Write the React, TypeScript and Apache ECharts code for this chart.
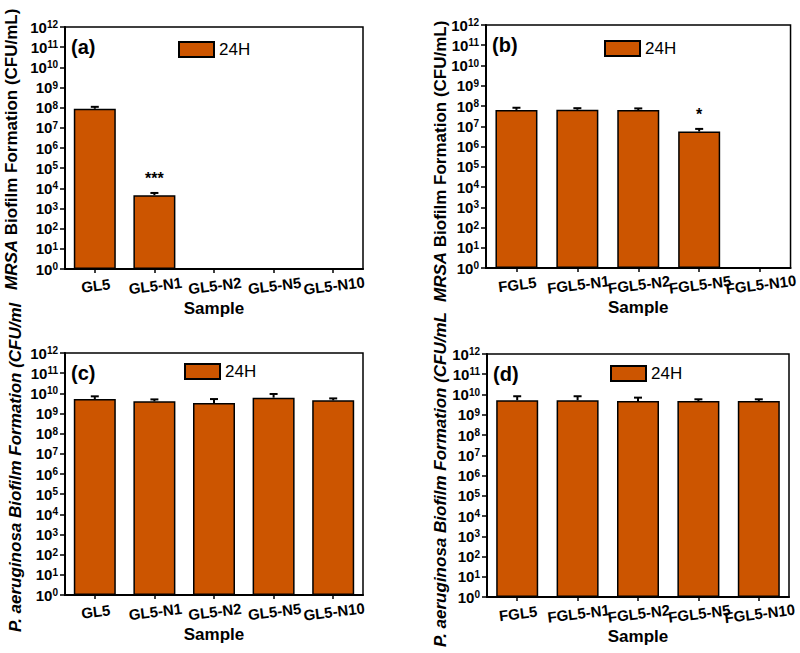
import React, { useEffect, useRef } from "react";
import * as echarts from "echarts";

const categoriesGL = ["GL5", "GL5-N1", "GL5-N2", "GL5-N5", "GL5-N10"];
const categoriesFGL = ["FGL5", "FGL5-N1", "FGL5-N2", "FGL5-N5", "FGL5-N10"];

// (a) MRSA, GL5 series
const valuesA: (number | null)[] = [8.8e7, 4.6e3, null, null, null];
const errorsA: (number | null)[] = [2.2e7, 1.3e3, null, null, null];
const starsA = ["", "***", "", "", ""];

// (b) MRSA, FGL5 series
const valuesB: (number | null)[] = [6.4e7, 6.5e7, 6.3e7, 5.5e6, null];
const errorsB: (number | null)[] = [1.8e7, 1.3e7, 1.3e7, 1.9e6, null];
const starsB = ["", "", "", "*", ""];

// (c) P. aeruginosa, GL5 series
const valuesC: (number | null)[] = [5.2e9, 4.0e9, 3.3e9, 6.1e9, 4.5e9];
const errorsC: (number | null)[] = [1.9e9, 1.0e9, 1.9e9, 3.2e9, 1.1e9];
const starsC = ["", "", "", "", ""];

// (d) P. aeruginosa, FGL5 series
const valuesD: (number | null)[] = [5.2e9, 5.2e9, 4.8e9, 4.8e9, 4.8e9];
const errorsD: (number | null)[] = [3.0e9, 3.0e9, 2.2e9, 1.0e9, 1.0e9];
const starsD = ["", "", "", "", ""];

const yMin = 1;
const yMax = 1e12;

const FONT = "'Liberation Sans', Arial, sans-serif";
const BAR_COLOR = "#CC5500";

export default function App() {
  const ref = useRef<HTMLDivElement>(null);

  useEffect(() => {
    if (!ref.current) return;
    const chart = echarts.init(ref.current, undefined, { renderer: "svg" });

    const grids = [
      { left: 65, top: 27, width: 298, height: 242 },
      { left: 486, top: 25, width: 305, height: 243 },
      { left: 65, top: 353, width: 298, height: 242 },
      { left: 487, top: 354, width: 302, height: 243 },
    ];
    const panels = [
      { cats: categoriesGL, vals: valuesA, errs: errorsA, stars: starsA, letter: "(a)" },
      { cats: categoriesFGL, vals: valuesB, errs: errorsB, stars: starsB, letter: "(b)" },
      { cats: categoriesGL, vals: valuesC, errs: errorsC, stars: starsC, letter: "(c)" },
      { cats: categoriesFGL, vals: valuesD, errs: errorsD, stars: starsD, letter: "(d)" },
    ];
    const legendPos = [
      { left: 178, top: 41 },
      { left: 604, top: 40 },
      { left: 184, top: 363 },
      { left: 610, top: 365 },
    ];

    const xAxis = panels.map((p, i) => ({
      type: "category",
      gridIndex: i,
      data: p.cats,
      axisLine: { show: true, lineStyle: { color: "#000", width: 2 } },
      axisTick: { show: true, alignWithLabel: true, length: 4, lineStyle: { color: "#000", width: 1.5 } },
      axisLabel: {
        color: "#000",
        fontFamily: FONT,
        fontWeight: "bold",
        fontSize: 15,
        rotate: 7,
        align: "center",
        verticalAlign: "top",
        margin: 9,
        interval: 0,
      },
      name: "Sample",
      nameLocation: "middle",
      nameGap: 31,
      nameTextStyle: { color: "#000", fontFamily: FONT, fontWeight: "bold", fontSize: 17 },
      splitLine: { show: false },
    }));

    const yAxis = panels.map((p, i) => ({
      type: "log",
      logBase: 10,
      gridIndex: i,
      min: yMin,
      max: yMax,
      interval: 1,
      splitNumber: 12,
      axisLine: { show: true, lineStyle: { color: "#000", width: 2 } },
      axisTick: { show: true, inside: false, length: 5, lineStyle: { color: "#000", width: 1.5 } },
      minorTick: { show: false },
      splitLine: { show: false },
      axisLabel: {
        margin: 7,
        formatter: (v: number) => `{b|10}{s|${Math.round(Math.log10(v))}}`,
        rich: {
          b: { fontFamily: FONT, fontWeight: "bold", fontSize: 15, color: "#000" },
          s: { fontFamily: FONT, fontWeight: "bold", fontSize: 10, color: "#000", verticalAlign: "top" },
        },
      },
    }));

    const series: any[] = [];
    panels.forEach((p, i) => {
      series.push({
        type: "bar",
        name: "24H",
        xAxisIndex: i,
        yAxisIndex: i,
        barWidth: 42,
        data: p.vals.map((v) => (v == null ? "-" : v)),
        itemStyle: { color: BAR_COLOR, borderColor: "#000", borderWidth: 1.5 },
      });
      const errData = p.vals
        .map((v, k) => (v == null ? null : [k, v, v + (p.errs[k] || 0)]))
        .filter((d) => d != null);
      const stars = p.stars;
      series.push({
        type: "custom",
        name: "err" + i,
        xAxisIndex: i,
        yAxisIndex: i,
        z: 5,
        silent: true,
        encode: { x: 0, y: [1, 2] },
        data: errData,
        renderItem: (params: any, api: any) => {
          const k = api.value(0);
          const base = api.coord([k, api.value(1)]);
          const top = api.coord([k, api.value(2)]);
          const children: any[] = [
            {
              type: "line",
              shape: { x1: base[0], y1: base[1], x2: top[0], y2: top[1] },
              style: { stroke: "#000", lineWidth: 2 },
            },
            {
              type: "line",
              shape: { x1: top[0] - 4, y1: top[1], x2: top[0] + 4, y2: top[1] },
              style: { stroke: "#000", lineWidth: 2 },
            },
          ];
          const s = stars[k];
          if (s) {
            children.push({
              type: "text",
              x: top[0],
              y: top[1] - 6,
              style: {
                text: s,
                fill: "#000",
                font: `bold 16px ${FONT}`,
                textAlign: "center",
                textVerticalAlign: "bottom",
              },
            });
          }
          return { type: "group", children };
        },
      });
    });

    const legend = legendPos.map((pos) => ({
      left: pos.left,
      top: pos.top,
      padding: 0,
      data: ["24H"],
      icon: "rect",
      itemWidth: 35,
      itemHeight: 15,
      itemGap: 5,
      selectedMode: false,
      textStyle: { fontFamily: FONT, fontSize: 17, color: "#000", padding: [0, 0, 0, 0] },
    }));

    const yTitles = [
      { x: 11, y: 290, rich: true },
      { x: 440, y: 302, rich: true },
      { x: 15, y: 632, rich: false, text: "P. aeruginosa Biofilm Formation (CFU/ml" },
      { x: 440, y: 647, rich: false, text: "P. aeruginosa Biofilm Formation (CFU/mL" },
    ];

    const graphic: any[] = [];
    grids.forEach((g, i) => {
      graphic.push({
        type: "text",
        left: g.left + 6,
        top: g.top + 10,
        style: { text: panels[i].letter, font: `bold 20px ${FONT}`, fill: "#000" },
      });
    });
    yTitles.forEach((t) => {
      if (t.rich) {
        graphic.push({
          type: "text",
          x: t.x,
          y: t.y,
          rotation: Math.PI / 2,
          style: {
            text: "{i|MRSA} {b|Biofilm Formation (CFU/mL)}",
            textAlign: "left",
            textVerticalAlign: "middle",
            rich: {
              i: { font: `italic bold 17px ${FONT}`, fill: "#000" },
              b: { font: `bold 17px ${FONT}`, fill: "#000" },
            },
            font: `bold 17px ${FONT}`,
            fill: "#000",
          },
        });
      } else {
        graphic.push({
          type: "text",
          x: t.x,
          y: t.y,
          rotation: Math.PI / 2,
          style: {
            text: t.text,
            textAlign: "left",
            textVerticalAlign: "middle",
            font: `italic bold 17px ${FONT}`,
            fill: "#000",
          },
        });
      }
    });

    chart.setOption({
      animation: false,
      backgroundColor: "#fff",
      textStyle: { fontFamily: FONT },
      grid: grids.map((g) => ({
        ...g,
        show: true,
        borderColor: "#000",
        borderWidth: 1.5,
        backgroundColor: "transparent",
      })),
      legend,
      xAxis,
      yAxis,
      series,
      graphic,
    });

    return () => chart.dispose();
  }, []);

  return (
    <div
      ref={ref}
      style={{ position: "fixed", left: 0, top: 0, width: 800, height: 653, background: "#fff" }}
    />
  );
}
